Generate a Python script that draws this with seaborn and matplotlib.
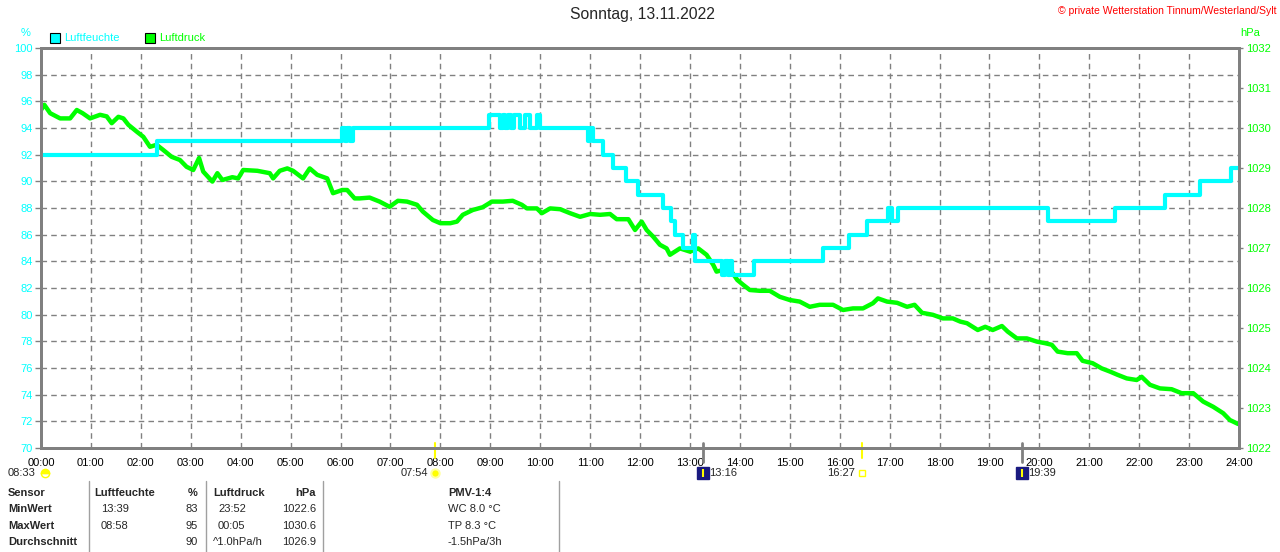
import matplotlib
matplotlib.use("Agg")
import pandas as pd
import matplotlib.pyplot as plt
import matplotlib.transforms as mtransforms
from matplotlib.patches import Rectangle
from matplotlib.lines import Line2D
import seaborn as sns

# Luftfeuchte (%) - Stufenwerte ab Uhrzeit
hum_time = ["00:00", "02:20", "06:02", "06:05", "06:08", "06:11", "06:15",
            "08:58", "09:12", "09:15", "09:18", "09:21", "09:25", "09:28", "09:36",
            "09:42", "09:48", "09:56", "10:00",
            "10:58", "11:00", "11:04", "11:16", "11:28", "11:43", "11:58", "12:28",
            "12:37", "12:42", "12:52", "13:04", "13:06",
            "13:39", "13:42", "13:46", "13:48", "13:51", "14:17",
            "15:40", "16:11", "16:33", "16:58", "17:03", "17:10", "20:10", "21:31",
            "22:31", "23:13", "23:50", "24:00"]
hum_val = [92, 93, 94, 93, 94, 93, 94,
           95, 94, 95, 94, 95, 94, 95, 94, 95, 94, 95, 94,
           93, 94, 93, 92, 91, 90, 89, 88, 87, 86, 85, 86, 84,
           83, 84, 83, 84, 83, 84,
           85, 86, 87, 88, 87, 88, 87, 88, 89, 90, 91, 91]

# Luftdruck (hPa) - Minute des Tages
press_min = [0, 4, 11, 23, 35, 43, 50, 59, 71, 79, 85, 93, 99, 105, 115, 123, 131, 139,
             147, 157, 167, 175, 183, 190, 195, 206, 212, 218, 230, 237, 243, 260, 275,
             279, 287, 296, 303, 315, 323, 332, 344, 351, 362, 368, 377, 383, 395, 407,
             419, 429, 440, 452, 459, 471, 480, 492, 500, 507, 519, 531, 542, 555, 567,
             578, 584, 596, 602, 612, 624, 636, 648, 660, 672, 684, 692, 706, 714, 722,
             728, 736, 744, 752, 756, 762, 768, 780, 790, 800, 808, 812, 820, 830, 837,
             844, 852, 864, 876, 888, 900, 912, 924, 936, 952, 964, 976, 988, 1000, 1006,
             1017, 1029, 1041, 1050, 1059, 1072, 1084, 1096, 1105, 1113, 1126, 1135,
             1144, 1155, 1162, 1173, 1185, 1197, 1207, 1215, 1222, 1234, 1245, 1252,
             1264, 1275, 1285, 1294, 1305, 1317, 1323, 1333, 1345, 1359, 1371, 1385,
             1397, 1409, 1421, 1429, 1439]
press_val = [1030.45, 1030.58, 1030.37, 1030.24, 1030.24, 1030.45, 1030.37, 1030.24,
             1030.33, 1030.29, 1030.12, 1030.28, 1030.24, 1030.08, 1029.91, 1029.78,
             1029.53, 1029.58, 1029.45, 1029.28, 1029.20, 1029.03, 1028.95, 1029.25,
             1028.91, 1028.66, 1028.87, 1028.70, 1028.77, 1028.74, 1028.95, 1028.93,
             1028.87, 1028.74, 1028.93, 1028.99, 1028.93, 1028.74, 1028.99, 1028.83,
             1028.74, 1028.37, 1028.45, 1028.45, 1028.24, 1028.24, 1028.26, 1028.16,
             1028.03, 1028.18, 1028.16, 1028.08, 1027.91, 1027.70, 1027.62, 1027.62,
             1027.66, 1027.83, 1027.95, 1028.02, 1028.16, 1028.16, 1028.18, 1028.08,
             1027.99, 1027.99, 1027.87, 1027.99, 1027.97, 1027.87, 1027.78, 1027.85,
             1027.83, 1027.85, 1027.72, 1027.72, 1027.45, 1027.66, 1027.45, 1027.28,
             1027.08, 1026.99, 1026.83, 1026.91, 1026.99, 1026.91, 1026.99, 1026.83,
             1026.58, 1026.41, 1026.45, 1026.41, 1026.20, 1026.08, 1025.95, 1025.93,
             1025.93, 1025.78, 1025.70, 1025.66, 1025.53, 1025.58, 1025.58, 1025.45,
             1025.49, 1025.49, 1025.62, 1025.74, 1025.66, 1025.63, 1025.53, 1025.58,
             1025.38, 1025.33, 1025.24, 1025.24, 1025.16, 1025.12, 1024.95, 1025.03,
             1024.95, 1025.05, 1024.91, 1024.74, 1024.74, 1024.66, 1024.62, 1024.58,
             1024.41, 1024.37, 1024.37, 1024.18, 1024.12, 1023.99, 1023.91, 1023.83,
             1023.74, 1023.70, 1023.78, 1023.58, 1023.49, 1023.47, 1023.37, 1023.37,
             1023.16, 1023.03, 1022.87, 1022.70, 1022.60]

hour_labels = ["%02d:00" % h for h in range(25)]
hum_ticks = list(range(70, 101, 2))
press_ticks = list(range(1022, 1033))

# Tabelle unten
table_rows = ["Sensor", "MinWert", "MaxWert", "Durchschnitt"]
hum_time_col = ["", "13:39", "08:58", ""]
hum_val_col = ["%", "83", "95", "90"]
press_time_col = ["", "23:52", "00:05", "^1.0hPa/h"]
press_val_col = ["hPa", "1022.6", "1030.6", "1026.9"]
pmv_col = ["PMV-1:4", "WC 8.0 \u00b0C", "TP 8.3 \u00b0C", "-1.5hPa/3h"]

CYAN = "#00FFFF"
GREEN = "#00FF00"
GRAY = "#808080"

sns.set_style("white")
plt.rcParams["font.family"] = ["Liberation Sans", "DejaVu Sans"]
plt.rcParams["font.size"] = 8

W, H = 1280, 552


def fx(x):
    return x / W


def fy(y):
    return 1 - y / H


hum = pd.DataFrame({"t": [int(s[:2]) + int(s[3:]) / 60 for s in hum_time], "v": hum_val})
press = pd.DataFrame({"t": [m / 60 for m in press_min], "v": press_val})

fig = plt.figure(figsize=(12.8, 5.52), dpi=100)
ax = fig.add_axes([fx(41), fy(448), fx(1198), 400 / H])
ax2 = ax.twinx()   # Luftdruck, rechte Achse
ax3 = ax.twinx()   # Luftfeuchte obenauf, gleiche Skala wie ax

sns.lineplot(data=press, x="t", y="v", ax=ax2, color=GREEN, lw=3.2,
             estimator=None, sort=False, legend=False)
sns.lineplot(data=hum, x="t", y="v", ax=ax3, color=CYAN, lw=3, drawstyle="steps-post",
             estimator=None, sort=False, legend=False)

ax.set_xlim(0, 24)
ax.set_ylim(70, 100)
ax3.set_ylim(70, 100)
ax2.set_ylim(1022, 1032)
ax.set_xticks(range(25))
ax.set_xticklabels(hour_labels)
ax.set_yticks(hum_ticks)
ax2.set_yticks(press_ticks)
for a in (ax, ax2, ax3):
    a.set_xlabel("")
    a.set_ylabel("")
ax3.yaxis.set_visible(False)

ax.grid(True, color=GRAY, linestyle=(0, (4, 3)), linewidth=1)
ax.set_axisbelow(True)
ax.tick_params(axis="x", colors=GRAY, labelcolor="black", length=5, width=1, pad=2, labelsize=8)
ax.tick_params(axis="y", colors=GRAY, labelcolor=CYAN, length=4, width=1, pad=2, labelsize=8)
ax2.tick_params(axis="y", colors=GRAY, labelcolor=GREEN, length=3, width=1, pad=2, labelsize=8)
for a in (ax, ax2, ax3):
    for s in a.spines.values():
        s.set_color(GRAY)
        s.set_linewidth(2)

# Titel und Texte oben
fig.text(fx(642), fy(15), "Sonntag, 13.11.2022", ha="center", va="center", fontsize=11.3)
fig.text(fx(1277), fy(11), "\u00a9 private Wetterstation Tinnum/Westerland/Sylt",
         ha="right", va="center", fontsize=7.5, color="#FF0000")
fig.text(fx(26), fy(33), "%", ha="center", va="center", color=CYAN, fontsize=8)
fig.text(fx(1250), fy(33), "hPa", ha="center", va="center", color=GREEN, fontsize=8)

# Legende
for x0, col, name in [(50, CYAN, "Luftfeuchte"), (145, GREEN, "Luftdruck")]:
    fig.add_artist(Rectangle((fx(x0), fy(43)), fx(10), 10 / H, facecolor=col,
                             edgecolor="black", lw=0.8, transform=fig.transFigure))
    fig.text(fx(x0 + 14), fy(38), name, ha="left", va="center", color=col, fontsize=8)

# Sonne / Mond unter der Zeitachse
tr = mtransforms.blended_transform_factory(ax.transData, fig.transFigure)
ann_y = fy(473)
fig.text(fx(36), ann_y, "08:33", ha="right", va="center", fontsize=8)
ax.plot([0.08], [ann_y], transform=tr, marker="o", ms=6, color="#FFFF00",
        mec="#FFFF00", clip_on=False, fillstyle="top")

sunrise = 7 + 54 / 60
sunset = 16 + 27 / 60
moonset = 13 + 16 / 60
moonrise = 19 + 39 / 60
for t in (sunrise, sunset):
    ax.plot([t, t], [fy(443), fy(458)], transform=tr, color="#FFFF00", lw=1.5, clip_on=False)
for t in (moonset, moonrise):
    ax.plot([t, t], [fy(443), fy(462)], transform=tr, color=GRAY, lw=2, clip_on=False)

ax.text(sunrise - 0.14, ann_y, "07:54", transform=tr, ha="right", va="center", fontsize=8)
ax.plot([sunrise], [ann_y], transform=tr, marker="o", ms=6, color="#FFFF00",
        mec="#FFFFA0", mew=1.5, clip_on=False)
ax.text(sunset - 0.14, ann_y, "16:27", transform=tr, ha="right", va="center", fontsize=8)
ax.plot([sunset], [ann_y], transform=tr, marker="s", ms=4, mfc="none", mec="#FFFF00",
        mew=1, clip_on=False)
for t, lab in [(moonset, "13:16"), (moonrise, "19:39")]:
    ax.plot([t], [ann_y], transform=tr, marker="s", ms=8, color="#1A1A80", clip_on=False)
    ax.plot([t], [ann_y], transform=tr, marker="|", ms=6, color="#FFFF00", mew=1.5,
            clip_on=False)
    ax.text(t + 0.12, ann_y, lab, transform=tr, ha="left", va="center", fontsize=8)

# Tabelle
for x in (89, 206, 323, 559):
    fig.add_artist(Line2D([fx(x), fx(x)], [fy(481), fy(552)], color="#A0A0A0", lw=1,
                          transform=fig.transFigure))
row_y = [493, 509, 526, 542]
for i, yy in enumerate(row_y):
    head = "bold" if i == 0 else "normal"
    fig.text(fx(8), fy(yy), table_rows[i], ha="left", va="center", fontweight="bold")
    if i == 0:
        fig.text(fx(94), fy(yy), "Luftfeuchte", ha="left", va="center", fontweight="bold")
        fig.text(fx(213), fy(yy), "Luftdruck", ha="left", va="center", fontweight="bold")
    fig.text(fx(101), fy(yy), hum_time_col[i], ha="left", va="center")
    fig.text(fx(198), fy(yy), hum_val_col[i], ha="right", va="center", fontweight=head)
    fig.text(fx(213 if i == 3 else 218), fy(yy), press_time_col[i], ha="left", va="center")
    fig.text(fx(316), fy(yy), press_val_col[i], ha="right", va="center", fontweight=head)
    fig.text(fx(448), fy(yy), pmv_col[i], ha="left", va="center", fontweight=head)

fig.savefig("out.png", dpi=100, facecolor="white")
